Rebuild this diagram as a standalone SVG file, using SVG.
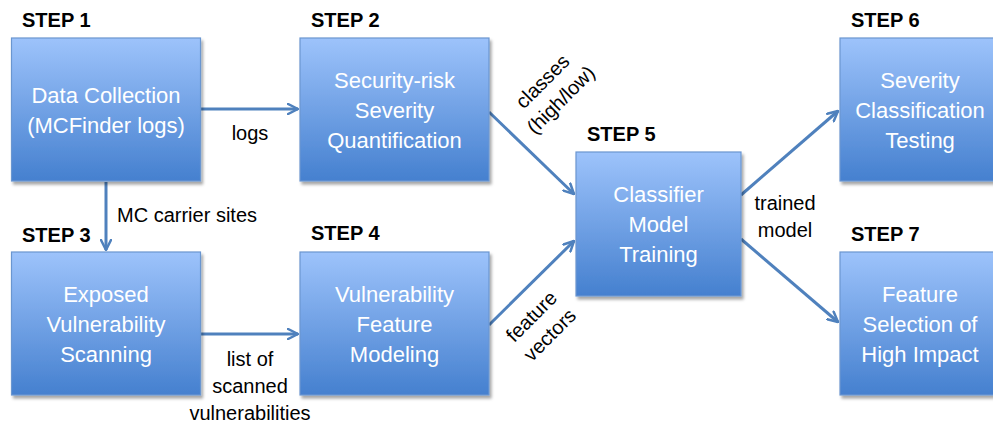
<svg xmlns="http://www.w3.org/2000/svg" width="993" height="426" viewBox="0 0 993 426">
<defs>
<linearGradient id="g" x1="0" y1="0" x2="0" y2="1">
<stop offset="0" stop-color="#9dc3fb"/>
<stop offset="1" stop-color="#4580cf"/>
</linearGradient>
<filter id="sh" x="-10%" y="-10%" width="130%" height="130%">
<feDropShadow dx="2" dy="3" stdDeviation="1.5" flood-color="#000" flood-opacity="0.35"/>
</filter>
<marker id="ah" viewBox="0 0 12 12" refX="11" refY="6" markerWidth="12" markerHeight="12" markerUnits="userSpaceOnUse" orient="auto">
<path d="M1,1 L11,6 L1,11" fill="none" stroke="#4f81bd" stroke-width="2.5" stroke-linecap="round" stroke-linejoin="round"/>
</marker>
<style>
.box{fill:url(#g);stroke:#6b96d0;stroke-width:1.2;filter:url(#sh)}
.bt{font-family:"Liberation Sans",Arial,sans-serif;font-size:22px;fill:#fff;text-anchor:middle}
.st{font-family:"Liberation Sans",Arial,sans-serif;font-size:20px;font-weight:bold;fill:#000}
.lb{font-family:"Liberation Sans",Arial,sans-serif;font-size:20px;fill:#000}
.c{stroke:#4f81bd;stroke-width:3;fill:none;marker-end:url(#ah)}
</style>
</defs>
<rect width="993" height="426" fill="#fff"/>
<g id="connectors">
<line class="c" x1="201" y1="109" x2="298" y2="109"/>
<line class="c" x1="106" y1="182" x2="106" y2="250"/>
<line class="c" x1="201" y1="334" x2="298" y2="334"/>
<line class="c" x1="489" y1="112" x2="574" y2="194"/>
<line class="c" x1="489" y1="325" x2="574" y2="241"/>
<line class="c" x1="741" y1="195" x2="838" y2="111"/>
<line class="c" x1="741" y1="239" x2="838" y2="322"/>
<text class="lb" x="250" y="140" text-anchor="middle">logs</text>
<text class="lb" x="117" y="222">MC carrier sites</text>
<text class="lb" x="250" y="366" text-anchor="middle">list of</text>
<text class="lb" x="250" y="393" text-anchor="middle">scanned</text>
<text class="lb" x="250" y="420" text-anchor="middle">vulnerabilities</text>
<text class="lb" x="785" y="210" text-anchor="middle">trained</text>
<text class="lb" x="785" y="237" text-anchor="middle">model</text>
<g transform="translate(543,82) rotate(-45)">
<text class="lb" x="0" y="6" text-anchor="middle">classes</text>
<text class="lb" x="0" y="32" text-anchor="middle">(high/low)</text>
</g>
<g transform="translate(532,317) rotate(-45)">
<text class="lb" x="0" y="6" text-anchor="middle">feature</text>
<text class="lb" x="0" y="32" text-anchor="middle">vectors</text>
</g>
</g>
<g id="step1">
<text class="st" x="22" y="27">STEP 1</text>
<rect class="box" x="11.5" y="38" width="189" height="143"/>
<text class="bt" x="106" y="103">Data Collection</text>
<text class="bt" x="106" y="133">(MCFinder logs)</text>
</g>
<g id="step2">
<text class="st" x="311" y="27">STEP 2</text>
<rect class="box" x="300" y="38" width="189" height="143"/>
<text class="bt" x="394.5" y="88">Security-risk</text>
<text class="bt" x="394.5" y="118">Severity</text>
<text class="bt" x="394.5" y="148">Quantification</text>
</g>
<g id="step3">
<text class="st" x="22" y="242">STEP 3</text>
<rect class="box" x="11.5" y="252" width="189" height="143"/>
<text class="bt" x="106" y="302">Exposed</text>
<text class="bt" x="106" y="332">Vulnerability</text>
<text class="bt" x="106" y="362">Scanning</text>
</g>
<g id="step4">
<text class="st" x="311" y="240">STEP 4</text>
<rect class="box" x="300" y="252" width="189" height="143"/>
<text class="bt" x="394.5" y="302">Vulnerability</text>
<text class="bt" x="394.5" y="332">Feature</text>
<text class="bt" x="394.5" y="362">Modeling</text>
</g>
<g id="step5">
<text class="st" x="587" y="141">STEP 5</text>
<rect class="box" x="576" y="152" width="165" height="144"/>
<text class="bt" x="658.5" y="202">Classifier</text>
<text class="bt" x="658.5" y="232">Model</text>
<text class="bt" x="658.5" y="262">Training</text>
</g>
<g id="step6">
<text class="st" x="851" y="27">STEP 6</text>
<rect class="box" x="840" y="38" width="165" height="143"/>
<text class="bt" x="920" y="88">Severity</text>
<text class="bt" x="920" y="118">Classification</text>
<text class="bt" x="920" y="148">Testing</text>
</g>
<g id="step7">
<text class="st" x="851" y="241">STEP 7</text>
<rect class="box" x="840" y="252" width="165" height="143"/>
<text class="bt" x="920" y="302">Feature</text>
<text class="bt" x="920" y="332">Selection of</text>
<text class="bt" x="920" y="362">High Impact</text>
</g>
</svg>
